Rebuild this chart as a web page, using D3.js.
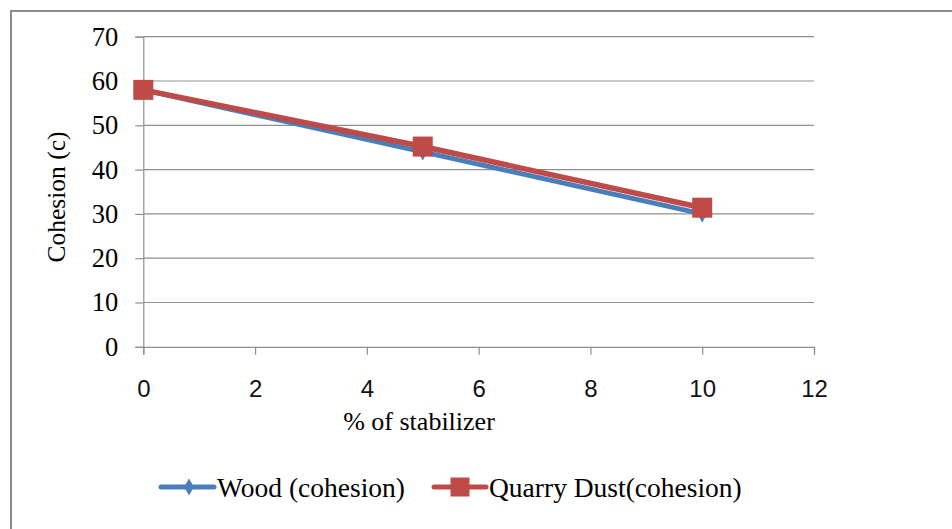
<!DOCTYPE html>
<html>
<head>
<meta charset="utf-8">
<script src="https://cdn.jsdelivr.net/npm/d3@7"></script>
<style>
  html, body { margin: 0; padding: 0; background: #fff; }
  svg { display: block; }
</style>
</head>
<body>
<svg id="chart" width="952" height="529"></svg>
<script>
// Cohesion against stabilizer content
const stabilizer = [0, 5, 10];
const woodCohesion = [58, 44, 30];
const quarryCohesion = [58, 45.2, 31.4];
const seriesNames = ["Wood (cohesion)", "Quarry Dust(cohesion)"];
const xTicks = [0, 2, 4, 6, 8, 10, 12];
const yTicks = [0, 10, 20, 30, 40, 50, 60, 70];

const svg = d3.select("#chart");
const W = 952, H = 529;

// outer frame (open on right and bottom)
svg.append("rect")
  .attr("x", 11).attr("y", 11)
  .attr("width", W + 20).attr("height", H + 20)
  .attr("fill", "none").attr("stroke", "#8c8c8c").attr("stroke-width", 2);

const x = d3.scaleLinear().domain([0, 12]).range([143.3, 814]);
const y = d3.scaleLinear().domain([0, 70]).range([346.8, 36.7]);

const serif = "'Liberation Serif', 'Times New Roman', serif";
const sans = "'Liberation Sans', Arial, sans-serif";

// horizontal gridlines
svg.append("g").selectAll("line").data(yTicks.filter(d => d > 0)).join("line")
  .attr("x1", x(0)).attr("x2", x(12))
  .attr("y1", d => y(d)).attr("y2", d => y(d))
  .attr("stroke", "#8f8f8f").attr("stroke-width", 1.2);

// y axis
const yAxis = svg.append("g").attr("transform", `translate(${x(0)},0)`)
  .call(d3.axisLeft(y).tickValues(yTicks).tickSize(8).tickPadding(17));
yAxis.select(".domain").attr("stroke", "#8f8f8f").attr("stroke-width", 1.2);
yAxis.selectAll(".tick line").attr("stroke", "#8f8f8f").attr("stroke-width", 1.2);
yAxis.selectAll(".tick text").attr("font-family", serif).attr("font-size", 26.5).attr("fill", "#000");

// x axis
const xAxis = svg.append("g").attr("transform", `translate(0,${y(0)})`)
  .call(d3.axisBottom(x).tickValues(xTicks).tickSize(8).tickPadding(25.5));
xAxis.select(".domain").attr("stroke", "#8f8f8f").attr("stroke-width", 1.2);
xAxis.selectAll(".tick line").attr("stroke", "#8f8f8f").attr("stroke-width", 1.2);
xAxis.selectAll(".tick text").attr("font-family", sans).attr("font-size", 24).attr("fill", "#111");

// axis titles
svg.append("text")
  .attr("x", 419).attr("y", 430)
  .attr("text-anchor", "middle")
  .attr("font-family", serif).attr("font-size", 26)
  .text("% of stabilizer");

svg.append("text")
  .attr("transform", "translate(65,197) rotate(-90)")
  .attr("text-anchor", "middle")
  .attr("font-family", serif).attr("font-size", 25.5)
  .text("Cohesion (c)");

const blue = "#4a7ebb";
const red = "#be4b48";

const line = d3.line().x(d => x(d[0])).y(d => y(d[1]));
const woodPts = stabilizer.map((s, i) => [s, woodCohesion[i]]);
const quarryPts = stabilizer.map((s, i) => [s, quarryCohesion[i]]);

const diamond = d3.symbol().type(d3.symbolDiamond).size(85);

// wood series
svg.append("path").datum(woodPts)
  .attr("d", line).attr("fill", "none")
  .attr("stroke", blue).attr("stroke-width", 5).attr("stroke-linejoin", "round");
svg.append("g").selectAll("path").data(woodPts).join("path")
  .attr("d", diamond)
  .attr("transform", d => `translate(${x(d[0])},${y(d[1])})`)
  .attr("fill", blue);

// quarry dust series
svg.append("path").datum(quarryPts)
  .attr("d", line).attr("fill", "none")
  .attr("stroke", red).attr("stroke-width", 5.5).attr("stroke-linejoin", "round");
svg.append("g").selectAll("rect").data(quarryPts).join("rect")
  .attr("x", d => x(d[0]) - 10).attr("y", d => y(d[1]) - 10)
  .attr("width", 20).attr("height", 20)
  .attr("fill", red);

// legend
const leg = svg.append("g");
const legY = 487;
// wood entry
leg.append("line").attr("x1", 161).attr("x2", 214).attr("y1", legY).attr("y2", legY)
  .attr("stroke", blue).attr("stroke-width", 5).attr("stroke-linecap", "round");
leg.append("path").attr("d", diamond).attr("transform", `translate(189,${legY})`).attr("fill", blue);
leg.append("text").attr("x", 217).attr("y", legY + 9.5)
  .attr("font-family", serif).attr("font-size", 27.5).text(seriesNames[0]);
// quarry entry
leg.append("line").attr("x1", 434).attr("x2", 486).attr("y1", legY).attr("y2", legY)
  .attr("stroke", red).attr("stroke-width", 5).attr("stroke-linecap", "round");
leg.append("rect").attr("x", 450.5).attr("y", legY - 9.5).attr("width", 19).attr("height", 19).attr("fill", red);
leg.append("text").attr("x", 489).attr("y", legY + 9.5)
  .attr("font-family", serif).attr("font-size", 27.5).text(seriesNames[1]);
</script>
</body>
</html>
